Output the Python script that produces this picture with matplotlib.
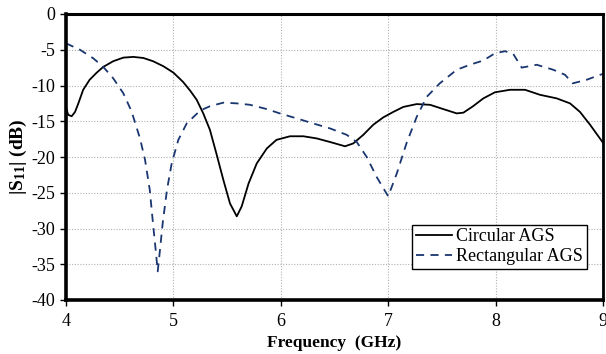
import matplotlib
matplotlib.use("Agg")
import matplotlib.pyplot as plt

plt.rcParams['font.family'] = ['Liberation Serif', 'DejaVu Serif']
plt.rcParams['mathtext.fontset'] = 'custom'
plt.rcParams['mathtext.rm'] = 'Liberation Serif'
plt.rcParams['mathtext.bf'] = 'Liberation Serif:bold'

# Circular AGS reflection coefficient (GHz, dB)
freq_circ = [4.00, 4.02, 4.053, 4.084, 4.115, 4.16, 4.22, 4.286, 4.347, 4.44,
             4.534, 4.627, 4.72, 4.81, 4.906, 5.00, 5.09, 5.155, 5.217, 5.278,
             5.34, 5.40, 5.465, 5.527, 5.59, 5.636, 5.70, 5.776, 5.87, 5.96,
             6.086, 6.21, 6.334, 6.458, 6.598, 6.675, 6.768, 6.86, 6.955, 7.047,
             7.14, 7.265, 7.39, 7.513, 7.638, 7.70, 7.79, 7.886, 7.994, 8.134,
             8.274, 8.413, 8.569, 8.693, 8.786, 8.88, 9.00]
s11_circ = [-13.0, -14.1, -14.3, -13.7, -12.5, -10.6, -9.2, -8.2, -7.4, -6.6,
            -6.1, -6.0, -6.15, -6.6, -7.3, -8.2, -9.5, -10.7, -12.0, -13.9,
            -16.2, -19.5, -23.2, -26.5, -28.3, -26.9, -23.7, -20.9, -18.8, -17.6,
            -17.1, -17.1, -17.4, -17.9, -18.5, -18.1, -16.9, -15.5, -14.45, -13.7,
            -13.0, -12.6, -12.7, -13.3, -13.9, -13.8, -12.9, -11.8, -10.95, -10.6,
            -10.6, -11.3, -11.8, -12.5, -13.7, -15.5, -18.0]

# Rectangular AGS reflection coefficient (GHz, dB)
freq_rect = [4.00, 4.13, 4.254, 4.347, 4.44, 4.534, 4.61, 4.689, 4.736, 4.78,
             4.81, 4.835, 4.854, 4.875, 4.90, 4.94, 4.984, 5.046, 5.124, 5.25,
             5.34, 5.465, 5.59, 5.713, 5.87, 5.99, 6.148, 6.30, 6.458, 6.614,
             6.707, 6.80, 6.893, 7.00, 7.08, 7.17, 7.265, 7.358, 7.48, 7.638,
             7.76, 7.886, 7.994, 8.088, 8.165, 8.243, 8.383, 8.537, 8.646, 8.718,
             8.848, 8.972, 9.00]
s11_rect = [-4.1, -5.0, -6.2, -7.4, -9.0, -11.1, -13.6, -17.4, -20.4, -24.6,
            -29.3, -33.0, -36.0, -33.0, -29.3, -24.6, -20.9, -17.6, -15.3, -13.5,
            -12.9, -12.4, -12.5, -12.7, -13.3, -13.9, -14.6, -15.3, -16.0, -16.9,
            -17.9, -20.0, -22.8, -25.5, -22.3, -18.1, -14.4, -11.6, -9.7, -7.8,
            -7.1, -6.5, -5.5, -5.2, -5.6, -7.5, -7.1, -7.8, -8.5, -9.7,
            -9.2, -8.5, -8.4]

x_ticks = [4, 5, 6, 7, 8, 9]
y_ticks = [0, -5, -10, -15, -20, -25, -30, -35, -40]

fig = plt.figure(figsize=(6.06, 3.54), dpi=100)
ax = fig.add_axes([66 / 606, 1 - 300 / 354, (603 - 66) / 606, (300 - 14) / 354])

ax.plot(freq_circ, s11_circ, color='black', lw=1.3, label='Circular AGS')
ax.plot(freq_rect, s11_rect, color='#1a3670', lw=1.3, ls=(0, (4.5, 3.5)),
        label='Rectangular AGS')

ax.set_xlim(4, 9)
ax.set_ylim(-40, 0)
ax.set_xticks(x_ticks)
ax.set_yticks(y_ticks)
ax.set_xticklabels([str(t) for t in x_ticks])
ax.set_yticklabels([str(t) for t in y_ticks])
ax.tick_params(axis='both', labelsize=13, length=4, width=1, direction='out',
               colors='black')
ax.tick_params(axis='x', pad=5)

ax.grid(True, color='#b0b0b0', ls=(0, (1, 1.5)), lw=0.8)
ax.set_axisbelow(True)

ax.spines['left'].set_linewidth(2.6)
ax.spines['bottom'].set_linewidth(2.6)
ax.spines['top'].set_linewidth(2.2)
ax.spines['right'].set_linewidth(2.0)

ax.set_xlabel('Frequency  (GHz)', fontsize=12.5, fontweight='bold', labelpad=4)
ax.set_ylabel(r'$\mathbf{|S_{11}|}$ (dB)', fontsize=14, fontweight='bold', labelpad=2)

leg = ax.legend(loc='lower right', bbox_to_anchor=(0.97, 0.11), fontsize=13,
                frameon=True, fancybox=False, framealpha=1, edgecolor='black',
                handlelength=2.0, handletextpad=0.25, borderpad=0.2,
                labelspacing=0.15, borderaxespad=0)
leg.get_frame().set_linewidth(1.0)

fig.savefig('out.png', dpi=100)
